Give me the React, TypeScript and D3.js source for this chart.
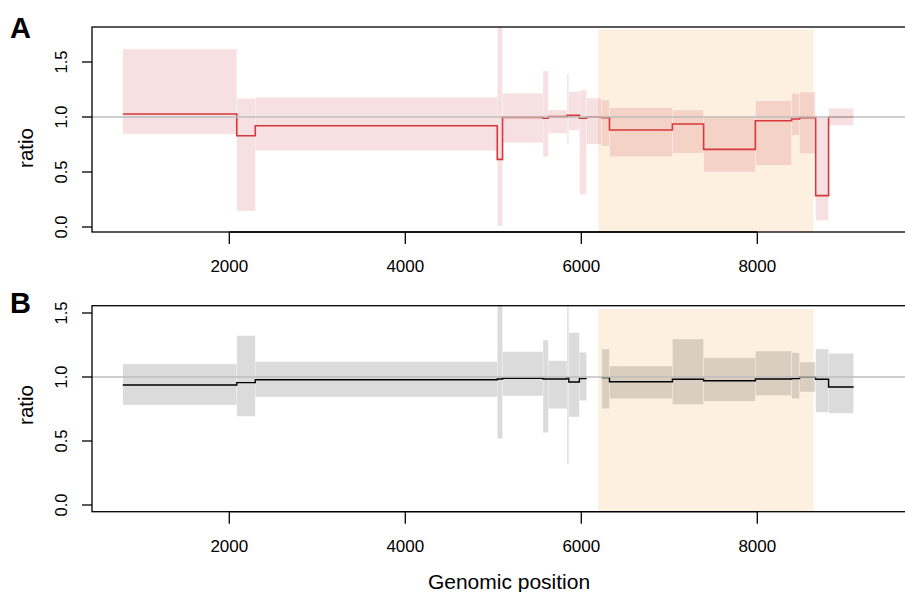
import React from "react";
import * as d3 from "d3";

// ---- data ----
const segStart = [790, 2085, 2295, 5045, 5105, 5565, 5625, 5838, 5858, 5978, 6060, 6232, 6320, 7035, 7390, 7978, 8390, 8480, 8663, 8810];
const segEnd = [2085, 2295, 5045, 5105, 5565, 5625, 5838, 5858, 5978, 6060, 6232, 6320, 7035, 7390, 7978, 8390, 8480, 8663, 8810, 9095];

const ratioA = [1.027, 0.83, 0.921, 0.615, 0.997, 0.988, 1.003, 1.015, 1.015, 0.988, 1.0, 0.994, 0.882, 0.936, 0.706, 0.966, 0.982, 0.994, 0.285, 1.0];
const upperA = [1.618, 1.17, 1.18, 2.0, 1.215, 1.418, 1.064, 1.39, 1.23, 1.245, 1.173, 1.155, 1.085, 1.064, 1.0, 1.148, 1.215, 1.227, 0.994, 1.079];
const lowerA = [0.845, 0.145, 0.694, 0.01, 0.766, 0.639, 0.852, 0.76, 0.88, 0.297, 0.752, 0.736, 0.639, 0.67, 0.5, 0.561, 0.833, 0.667, 0.061, 0.924];

const ratioB: (number | null)[] = [0.9375, 0.956, 0.979, 0.984, 0.99, 0.984, 0.984, 0.995, 0.961, 0.987, null, 0.995, 0.963, 0.982, 0.971, 0.984, 0.987, 0.998, 0.982, 0.922];
const upperB: (number | null)[] = [1.102, 1.323, 1.12, 1.8, 1.198, 1.289, 1.127, 1.8, 1.346, 1.193, null, 1.219, 1.086, 1.297, 1.151, 1.203, 1.19, 1.117, 1.219, 1.185];
const lowerB: (number | null)[] = [0.781, 0.693, 0.844, 0.518, 0.852, 0.565, 0.752, 0.318, 0.688, 0.815, null, 0.752, 0.83, 0.784, 0.81, 0.854, 0.83, 0.883, 0.724, 0.716];

const xTicks = [2000, 4000, 6000, 8000];
const yTicks = [0, 0.5, 1.0, 1.5];
const yTickLabels = ["0.0", "0.5", "1.0", "1.5"];
const highlight = [6190, 8640];

const FONT = "'Liberation Sans', Arial, Helvetica, sans-serif";
const W = 905;
const H = 592;
const LEFT = 92;
const RIGHT = 912;

const x = d3.scaleLinear().domain([2000, 8000]).range([229.3, 757.3]);

type PanelProps = {
  id: string;
  top: number;
  bottom: number;
  y: d3.ScaleLinear<number, number>;
  ratio: (number | null)[];
  upper: (number | null)[];
  lower: (number | null)[];
  ciFill: string;
  lineColor: string;
  lineWidth: number;
  letter: string;
  letterY: number;
  ratioLabelY: number;
  tickLabelY: number;
  hlTop: number;
};

function Panel(p: PanelProps) {
  const { y } = p;
  const pts: ([number, number] | null)[] = [];
  segStart.forEach((s, i) => {
    const r = p.ratio[i];
    if (r == null) {
      pts.push(null);
    } else {
      pts.push([s, r]);
      pts.push([segEnd[i], r]);
    }
  });
  const line = d3
    .line<[number, number] | null>()
    .defined((d) => d != null)
    .x((d) => x((d as [number, number])[0]))
    .y((d) => y((d as [number, number])[1]));
  const clipId = "clip" + p.id;
  return (
    <g>
      <defs>
        <clipPath id={clipId}>
          <rect x={LEFT} y={p.top} width={RIGHT - LEFT} height={p.bottom - p.top} />
        </clipPath>
      </defs>
      <g clipPath={`url(#${clipId})`}>
        <rect
          x={x(highlight[0])}
          y={y(p.hlTop)}
          width={x(highlight[1]) - x(highlight[0])}
          height={p.bottom - y(p.hlTop) + 2}
          fill="#FDF0E0"
        />
        {segStart.map((s, i) => {
          const u = p.upper[i];
          const l = p.lower[i];
          if (u == null || l == null) return null;
          return (
            <rect
              key={i}
              x={x(s)}
              y={y(u)}
              width={x(segEnd[i]) - x(s)}
              height={y(l) - y(u)}
              fill={p.ciFill}
              stroke="rgba(255,255,255,0.45)"
              strokeWidth={0.7}
            />
          );
        })}
        <path d={line(pts) || ""} fill="none" stroke={p.lineColor} strokeWidth={p.lineWidth} />
        <line x1={LEFT} x2={RIGHT} y1={y(1)} y2={y(1)} stroke="#BEBEBE" strokeWidth={1.3} />
      </g>
      {/* box */}
      <rect x={LEFT} y={p.top} width={RIGHT - LEFT} height={p.bottom - p.top} fill="none" stroke="#000" strokeWidth={1.3} />
      {/* y axis */}
      {yTicks.map((t, i) => (
        <g key={t}>
          <line x1={LEFT - 10} x2={LEFT} y1={y(t)} y2={y(t)} stroke="#000" strokeWidth={1.3} />
          <text
            transform={`translate(67,${y(t)}) rotate(-90)`}
            textAnchor="middle"
            fontFamily={FONT}
            fontSize={16.5}
            fill="#000"
          >
            {yTickLabels[i]}
          </text>
        </g>
      ))}
      {/* x axis */}
      <line x1={x(xTicks[0])} x2={x(xTicks[xTicks.length - 1])} y1={p.bottom} y2={p.bottom} stroke="#000" strokeWidth={1.3} />
      {xTicks.map((t) => (
        <g key={t}>
          <line x1={x(t)} x2={x(t)} y1={p.bottom} y2={p.bottom + 12} stroke="#000" strokeWidth={1.3} />
          <text x={x(t)} y={p.tickLabelY} textAnchor="middle" fontFamily={FONT} fontSize={17} fill="#000">
            {t}
          </text>
        </g>
      ))}
      <text
        transform={`translate(33,${p.ratioLabelY}) rotate(-90)`}
        textAnchor="middle"
        fontFamily={FONT}
        fontSize={20.5}
        fill="#000"
      >
        ratio
      </text>
      <text x={10} y={p.letterY} fontFamily={FONT} fontSize={29} fontWeight="bold" fill="#000">
        {p.letter}
      </text>
    </g>
  );
}

export default function App() {
  const yA = d3.scaleLinear().domain([0, 1.5]).range([227, 62]);
  const yB = d3.scaleLinear().domain([0, 1.5]).range([505, 313]);
  return (
    <svg width={W} height={H} style={{ position: "absolute", left: 0, top: 0, background: "#fff" }}>
      <rect x={0} y={0} width={W} height={H} fill="#fff" />
      <Panel
        id="A"
        top={27}
        bottom={232}
        y={yA}
        ratio={ratioA}
        upper={upperA}
        lower={lowerA}
        ciFill="rgba(180,0,10,0.12)"
        lineColor="#D7383B"
        lineWidth={1.6}
        letter="A"
        letterY={38}
        ratioLabelY={148}
        tickLabelY={272}
        hlTop={1.797}
      />
      <Panel
        id="B"
        top={305.7}
        bottom={511.7}
        y={yB}
        ratio={ratioB}
        upper={upperB}
        lower={lowerB}
        ciFill="rgba(0,0,0,0.14)"
        lineColor="#000"
        lineWidth={1.4}
        letter="B"
        letterY={313}
        ratioLabelY={405}
        tickLabelY={551.5}
        hlTop={1.531}
      />
      <text x={509} y={589} textAnchor="middle" fontFamily={FONT} fontSize={21} fill="#000">
        Genomic position
      </text>
    </svg>
  );
}
